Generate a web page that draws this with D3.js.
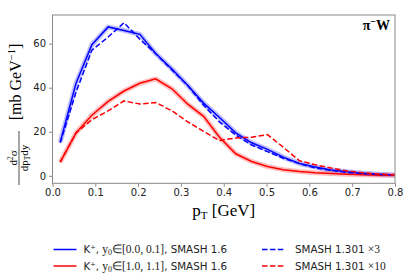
<!DOCTYPE html>
<html>
<head>
<meta charset="utf-8">
<script src="https://cdn.jsdelivr.net/npm/d3@7"></script>
<style>
  body { margin: 0; background: #fff; }
  svg { display: block; }
  .tick text { font-family: "DejaVu Sans", sans-serif; font-size: 10px; fill: #222; }
  .tick line { stroke: #888; }
</style>
</head>
<body>
<div id="chart"></div>
<script>
// pT bin positions [GeV]
const pT = [0.018, 0.055, 0.092, 0.130, 0.167, 0.204, 0.241, 0.279, 0.316, 0.353, 0.390,
            0.428, 0.465, 0.502, 0.539, 0.577, 0.614, 0.651, 0.688, 0.726, 0.763, 0.800];

// K+, y0 in [0.0, 0.1], SMASH 1.6
const blueSmash16 = [15.3, 42, 59.5, 67.6, 66, 64.2, 55.5, 48.5, 41, 33, 26.5,
                     19.5, 15, 12, 8.5, 5.6, 4, 2.6, 1.8, 1.2, 0.7, 0.4];
// SMASH 1.301 x3
const blueSmash1301 = [15, 38, 57, 63, 69.5, 62, 55.5, 48, 41, 32, 24.5,
                       18.5, 14, 11, 8, 5.5, 3.5, 2.5, 1.5, 1, 0.6, 0.3];
// K+, y0 in [1.0, 1.1], SMASH 1.6
const redSmash16 = [6.2, 19.5, 27.5, 33.8, 38.5, 42, 44, 39.5, 32.5, 27, 17.5,
                    10, 6.5, 4.2, 2.8, 2, 1.4, 1, 0.7, 0.5, 0.3, 0.2];
// SMASH 1.301 x10
const redSmash1301 = [6.2, 19.5, 25.5, 29.5, 34, 32.6, 33.3, 29.5, 24.5, 20.2, 16,
                      17.2, 17.5, 18.7, 13, 6.8, 5, 3.5, 2.2, 1.4, 0.8, 0.4];

const xTicks = [0.0, 0.1, 0.2, 0.3, 0.4, 0.5, 0.6, 0.7, 0.8];
const yTicks = [0, 20, 40, 60];

const width = 407;
const height = 280;
const plot = { left: 52.5, right: 395, top: 15, bottom: 183.3 };

const svg = d3.select("#chart")
    .append("svg")
    .attr("width", width)
    .attr("height", height);

const x = d3.scaleLinear().domain([0, 0.8]).range([plot.left, plot.right]);
const y = d3.scaleLinear().domain([-3.4, 73]).range([plot.bottom, plot.top]);

// axes
svg.append("g")
    .attr("transform", `translate(0,${plot.bottom})`)
    .call(d3.axisBottom(x).tickValues(xTicks).tickSize(3.5).tickPadding(2.5).tickFormat(d3.format(".1f")))
    .call(g => g.select(".domain").remove());

svg.append("g")
    .attr("transform", `translate(${plot.left},0)`)
    .call(d3.axisLeft(y).tickValues(yTicks).tickSize(3.5).tickPadding(3))
    .call(g => g.select(".domain").remove());

// series
const line = d3.line()
    .x((d, i) => x(pT[i]))
    .y(d => y(d));

svg.append("clipPath").attr("id", "clip")
    .append("rect")
    .attr("x", plot.left).attr("y", plot.top)
    .attr("width", plot.right - plot.left).attr("height", plot.bottom - plot.top);

const series = [
    { values: blueSmash16, color: "#0000ff", dashed: false },
    { values: redSmash16, color: "#ff0000", dashed: false },
    { values: blueSmash1301, color: "#0000ff", dashed: true },
    { values: redSmash1301, color: "#ff0000", dashed: true }
];

const lines = svg.append("g").attr("clip-path", "url(#clip)");

// light error band behind the solid curves
series.filter(s => !s.dashed).forEach(s => {
    lines.append("path")
        .attr("d", line(s.values))
        .attr("fill", "none")
        .attr("stroke", s.color)
        .attr("stroke-opacity", 0.25)
        .attr("stroke-width", 5)
        .attr("stroke-linejoin", "round");
});

series.forEach(s => {
    lines.append("path")
        .attr("d", line(s.values))
        .attr("fill", "none")
        .attr("stroke", s.color)
        .attr("stroke-width", 1.5)
        .attr("stroke-dasharray", s.dashed ? "5.5,2.4" : null);
});

// frame
svg.append("rect")
    .attr("x", plot.left).attr("y", plot.top)
    .attr("width", plot.right - plot.left).attr("height", plot.bottom - plot.top)
    .attr("fill", "none")
    .attr("stroke", "#888")
    .attr("stroke-width", 1);

// annotation
const ann = svg.append("text")
    .attr("x", 390).attr("y", 30)
    .attr("text-anchor", "end")
    .attr("font-family", "Liberation Serif, serif")
    .attr("font-weight", "bold")
    .attr("font-size", 14)
    .text("π");
ann.append("tspan").attr("font-size", 10).attr("dy", -5).text("−");
ann.append("tspan").attr("dy", 5).text("W");

// x label
const xl = svg.append("text")
    .attr("x", (plot.left + plot.right) / 2).attr("y", 216)
    .attr("text-anchor", "middle")
    .attr("font-family", "Liberation Serif, serif")
    .attr("font-size", 17)
    .text("p");
xl.append("tspan").attr("font-size", 11).attr("dy", 3).text("T");
xl.append("tspan").attr("dy", -3).text(" [GeV]");

// y label (rotated)
const yl = svg.append("g").attr("transform", "rotate(-90)")
    .attr("font-family", "Liberation Serif, serif");

const br = yl.append("text")
    .attr("x", -82).attr("y", 20.5)
    .attr("text-anchor", "middle")
    .attr("font-size", 16)
    .text("[mb GeV");
br.append("tspan").attr("font-size", 10.5).attr("dy", -6).text("−1");
br.append("tspan").attr("dy", 6).text("]");

const num = yl.append("text")
    .attr("x", -158).attr("y", 16.5)
    .attr("text-anchor", "middle")
    .attr("font-size", 11)
    .text("d");
num.append("tspan").attr("font-size", 7.5).attr("dy", -4).text("2");
num.append("tspan").attr("dy", 4).text("σ");

yl.append("line")
    .attr("x1", -185).attr("x2", -131)
    .attr("y1", 19).attr("y2", 19)
    .attr("stroke", "#000").attr("stroke-width", 0.7);

const den = yl.append("text")
    .attr("x", -158).attr("y", 27.5)
    .attr("text-anchor", "middle")
    .attr("font-size", 11)
    .text("dp");
den.append("tspan").attr("font-size", 7.5).attr("dy", 2).text("T");
den.append("tspan").attr("dy", -2).text("dy");

// legend
const legendItems = [
    { col: 0, row: 0, color: "#0000ff", dashed: false, lead: "K⁺, ", range: "[0.0, 0.1]", tail: ", SMASH 1.6" },
    { col: 0, row: 1, color: "#ff0000", dashed: false, lead: "K⁺, ", range: "[1.0, 1.1]", tail: ", SMASH 1.6" },
    { col: 1, row: 0, color: "#0000ff", dashed: true, text: "SMASH 1.301 ", factor: "×3" },
    { col: 1, row: 1, color: "#ff0000", dashed: true, text: "SMASH 1.301 ", factor: "×10" }
];

const colX = [53.5, 262];
const textX = [83.5, 295];
const rowY = [249.5, 266];

legendItems.forEach(d => {
    const x0 = colX[d.col], y0 = rowY[d.row];
    svg.append("line")
        .attr("x1", x0).attr("x2", x0 + 23)
        .attr("y1", y0).attr("y2", y0)
        .attr("stroke", d.color)
        .attr("stroke-width", 1.5)
        .attr("stroke-dasharray", d.dashed ? "5.5,2.4" : null);
    const t = svg.append("text")
        .attr("x", textX[d.col]).attr("y", y0 + 3.7)
        .attr("font-family", "DejaVu Sans, sans-serif")
        .attr("font-size", 10.3)
        .attr("fill", "#222");
    if (d.col === 0) {
        t.append("tspan").text(d.lead);
        t.append("tspan").attr("font-family", "Liberation Serif, serif").attr("font-size", 11.5).text("y");
        t.append("tspan").attr("font-family", "Liberation Serif, serif").attr("font-size", 8).attr("dy", 2).text("0");
        t.append("tspan").attr("font-family", "Liberation Serif, serif").attr("font-size", 11.5).attr("dy", -2).text("∈" + d.range);
        t.append("tspan").text(d.tail);
    } else {
        t.append("tspan").text(d.text);
        t.append("tspan").attr("font-family", "Liberation Serif, serif").attr("font-size", 11.5).text(d.factor);
    }
});
</script>
</body>
</html>
